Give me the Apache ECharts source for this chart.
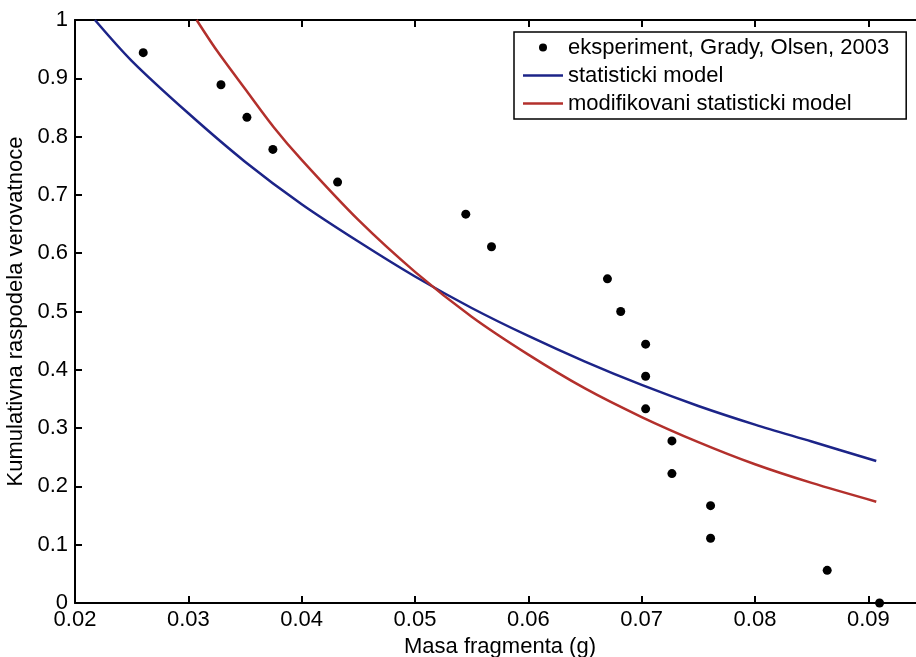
<!DOCTYPE html>
<html>
<head>
<meta charset="utf-8">
<script src="https://cdn.jsdelivr.net/npm/echarts@6/dist/echarts.min.js"></script>
<style>html,body{margin:0;padding:0;background:#fff}#c{width:916px;height:657px}</style>
</head>
<body>
<div id="c"></div>
<script>
const expMass = [0.02602,0.03288,0.03517,0.03746,0.04317,0.05448,0.05675,0.06698,0.06815,0.07035,0.07035,0.07035,0.07267,0.07267,0.07608,0.07608,0.08637,0.09099];
const expProb = [0.944,0.889,0.833,0.778,0.722,0.667,0.611,0.556,0.5,0.444,0.389,0.333,0.278,0.222,0.167,0.111,0.056,0];
const statMass = [0.02176,0.025,0.03,0.035,0.04,0.045,0.05,0.055,0.06,0.065,0.07,0.075,0.08,0.085,0.0907];
const statProb = [1.0,0.930,0.840,0.757,0.684,0.620,0.560,0.506,0.458,0.414,0.374,0.338,0.306,0.277,0.2436];
const modMass = [0.03073,0.0325,0.035,0.0375,0.04,0.045,0.05,0.055,0.06,0.065,0.07,0.075,0.08,0.085,0.0907];
const modProb = [1.0,0.948,0.882,0.817,0.760,0.657,0.568,0.491,0.426,0.368,0.319,0.276,0.238,0.206,0.1738];
const names = ['eksperiment, Grady, Olsen, 2003','statisticki model','modifikovani statisticki model'];
const xName = 'Masa fragmenta (g)';
const yName = 'Kumulativna raspodela verovatnoce';

const zip = (a,b) => a.map((v,i)=>[v,b[i]]);
const font = '"Liberation Sans", Arial, sans-serif';
const axisLine = {show:true, onZero:false, lineStyle:{color:'#000', width:2}};
const tick = {show:true, inside:true, length:7, lineStyle:{color:'#000', width:2}};
const lineIcon = 'path://M0,0 H40 V2.5 H0 Z';

const chart = echarts.init(document.getElementById('c'), null, {renderer:'canvas'});
chart.setOption({
  animation:false,
  backgroundColor:'#fff',
  grid:{left:75, top:20, width:850, height:583, containLabel:false, outerBoundsMode:'none'},
  legend:{
    orient:'vertical', left:514, top:32,
    padding:[3,17,3,9], itemGap:3, itemWidth:40, itemHeight:8,
    borderColor:'#000', borderWidth:1.5, backgroundColor:'#fff',
    textStyle:{fontFamily:font, fontSize:22, color:'#000', lineHeight:25},
    data:[{name:names[0], icon:'circle'}, {name:names[1], icon:lineIcon}, {name:names[2], icon:lineIcon}]
  },
  xAxis:[{
    type:'value', min:0.02, max:0.095, interval:0.01, position:'bottom',
    name:xName, nameLocation:'middle', nameGap:33,
    nameTextStyle:{fontFamily:font, fontSize:22, color:'#000'},
    axisLine, axisTick:tick, splitLine:{show:false},
    axisLabel:{fontFamily:font, fontSize:22, color:'#000', margin:6, showMaxLabel:false,
      formatter:v=>(Math.round(v*100)/100).toFixed(2)}
  },{
    type:'value', min:0.02, max:0.095, interval:0.01, position:'top',
    axisLine, axisTick:tick, splitLine:{show:false}, axisLabel:{show:false}
  }],
  yAxis:[{
    type:'value', min:0, max:1, interval:0.1, position:'left',
    name:yName, nameLocation:'middle', nameGap:36,
    nameTextStyle:{fontFamily:font, fontSize:22, color:'#000'},
    axisLine, axisTick:tick, splitLine:{show:false},
    axisLabel:{fontFamily:font, fontSize:22, color:'#000', margin:7,
      formatter:v=>{const r=Math.round(v*10)/10; return (r===0||r===1)?String(r):r.toFixed(1);}}
  },{
    type:'value', min:0, max:1, interval:0.1, position:'right',
    axisLine, axisTick:tick, splitLine:{show:false}, axisLabel:{show:false}
  }],
  series:[
    {name:names[0], type:'scatter', data:zip(expMass,expProb), symbol:'circle', symbolSize:9,
     itemStyle:{color:'#000', opacity:1}, z:5},
    {name:names[1], type:'line', data:zip(statMass,statProb), symbol:'none', smooth:0.3,
     lineStyle:{color:'#1c2488', width:2.5}, itemStyle:{color:'#1c2488'}, z:3},
    {name:names[2], type:'line', data:zip(modMass,modProb), symbol:'none', smooth:0.3,
     lineStyle:{color:'#b3302c', width:2.5}, itemStyle:{color:'#b3302c'}, z:3}
  ]
});
</script>
</body>
</html>
